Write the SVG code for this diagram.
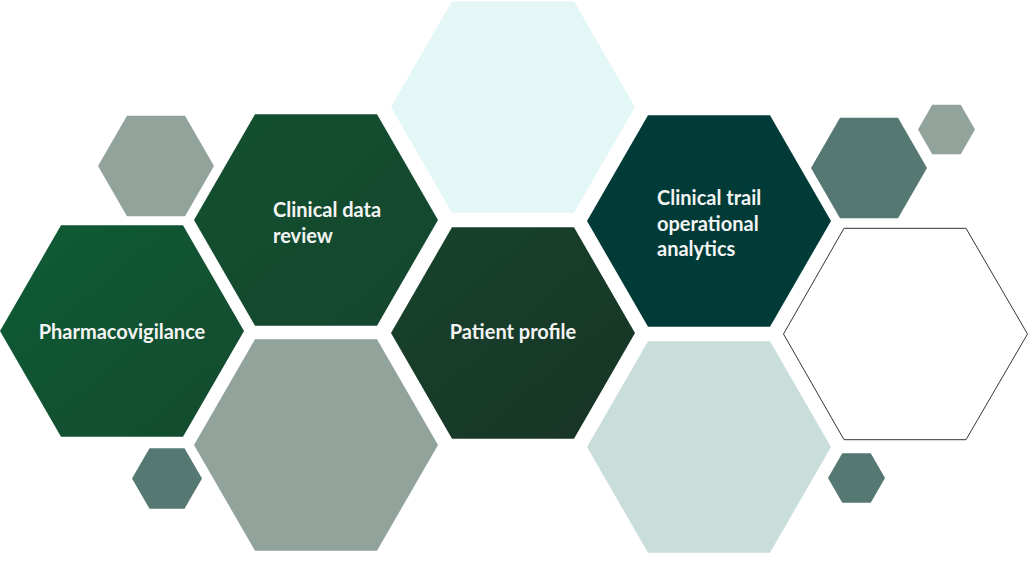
<svg xmlns="http://www.w3.org/2000/svg" width="1029" height="561" viewBox="0 0 1029 561">
  <defs>
    <linearGradient id="gPharma" x1="0" y1="0" x2="1" y2="1">
      <stop offset="0" stop-color="#0e5c35"/>
      <stop offset="1" stop-color="#144a2f"/>
    </linearGradient>
    <linearGradient id="gReview" x1="0" y1="0" x2="1" y2="1">
      <stop offset="0" stop-color="#12512f"/>
      <stop offset="1" stop-color="#15452f"/>
    </linearGradient>
    <linearGradient id="gPatient" x1="0" y1="0" x2="1" y2="1">
      <stop offset="0" stop-color="#17432c"/>
      <stop offset="1" stop-color="#183426"/>
    </linearGradient>
  </defs>
  <style>
    .lbl { font-family: Lato, "Open Sans", "Liberation Sans", sans-serif; font-weight: 700; font-size: 20px; fill: #f4f4f4; }
    .outline { fill: #ffffff; stroke: #2e3a36; stroke-width: 1; }
  </style>
  <rect width="1029" height="561" fill="#ffffff"/>

  <g id="hex-top-cyan">
    <polygon points="391,107 452,1.3 574,1.3 635,107 574,212.7 452,212.7" fill="#e3f7f6"/>
  </g>
  <g id="hex-small-grey-left">
    <polygon points="98,166 127,115.8 185,115.8 214,166 185,216.2 127,216.2" fill="#91a39a"/>
  </g>
  <g id="hex-clinical-data-review">
    <polygon points="194,220 255,114.3 377,114.3 438,220 377,325.7 255,325.7" fill="url(#gReview)"/>
    <text class="lbl" x="273" y="217">Clinical data</text>
    <text class="lbl" x="273" y="243">review</text>
  </g>
  <g id="hex-pharmacovigilance">
    <polygon points="0,331 61,225.3 183,225.3 244,331 183,436.7 61,436.7" fill="url(#gPharma)"/>
    <text class="lbl" x="122" y="339" text-anchor="middle">Pharmacovigilance</text>
  </g>
  <g id="hex-grey-bottom">
    <polygon points="194,445 255,339.3 377,339.3 438,445 377,550.7 255,550.7" fill="#91a39a"/>
  </g>
  <g id="hex-small-teal-bottom-left">
    <polygon points="132,478.5 149.5,448.2 184.5,448.2 202,478.5 184.5,508.8 149.5,508.8" fill="#567872"/>
  </g>
  <g id="hex-patient-profile">
    <polygon points="391,333 452,227.3 574,227.3 635,333 574,438.7 452,438.7" fill="url(#gPatient)"/>
    <text class="lbl" x="513" y="339" text-anchor="middle">Patient profile</text>
  </g>
  <g id="hex-clinical-trail">
    <polygon points="587,221 648,115.3 770,115.3 831,221 770,326.7 648,326.7" fill="#003b38"/>
    <text class="lbl" x="657" y="205">Clinical trail</text>
    <text class="lbl" x="657" y="231">operational</text>
    <text class="lbl" x="657" y="256">analytics</text>
  </g>
  <g id="hex-light-bluegrey">
    <polygon points="587,447 648,341.3 770,341.3 831,447 770,552.7 648,552.7" fill="#c9dddb"/>
  </g>
  <g id="hex-outline">
    <polygon class="outline" points="783.5,334 844,228.3 966,228.3 1027.5,334 966,439.7 844,439.7"/>
  </g>
  <g id="hex-small-teal-right">
    <polygon points="811,168 840,117.8 898,117.8 927,168 898,218.2 840,218.2" fill="#567872"/>
  </g>
  <g id="hex-tiny-grey">
    <polygon points="918,129.5 932.25,104.8 960.75,104.8 975,129.5 960.75,154.2 932.25,154.2" fill="#91a39a"/>
  </g>
  <g id="hex-small-teal-bottom-right">
    <polygon points="828,478 842.25,453.3 870.75,453.3 885,478 870.75,502.7 842.25,502.7" fill="#567872"/>
  </g>
  <g id="connectors"></g>
</svg>
